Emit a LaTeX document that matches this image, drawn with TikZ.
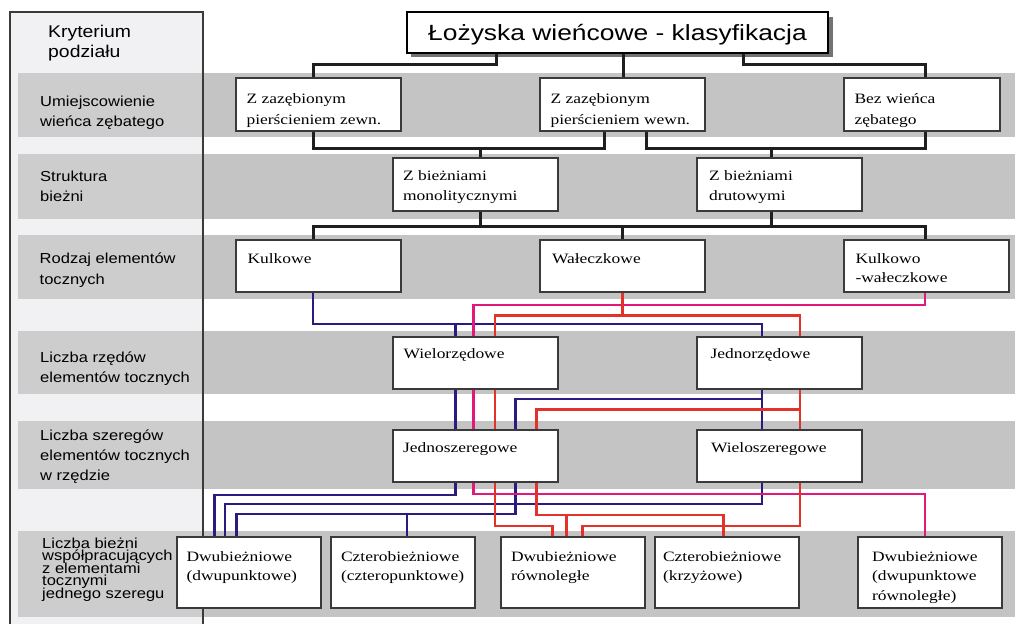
\documentclass[tikz,border=0pt]{standalone}
\usepackage{fontspec}
\setmainfont{Liberation Serif}
\newfontfamily\labfont{Liberation Sans}[FakeStretch=1.14]
\newfontfamily\ttlfont{Liberation Sans}[FakeStretch=1.2]
\newfontfamily\boxfont{Liberation Serif}[FakeStretch=1.22]
\newcommand\Ls[2]{\vtop{\baselineskip=#1\lineskiplimit=-50pt\lineskip=0pt\relax #2}}
\definecolor{bandc}{HTML}{C4C4C4}
\definecolor{bandl}{HTML}{CDCDCE}
\definecolor{colc}{HTML}{F1F1F3}
\definecolor{frame}{HTML}{3A3A3A}
\definecolor{cblue}{HTML}{2C1A80}
\definecolor{cpink}{HTML}{E2197B}
\definecolor{cred}{HTML}{E2322A}
\tikzset{
  conn/.style={line width=3pt, draw=black!88},
  cb/.style={line width=2.5pt, draw=cblue},
  cp/.style={line width=2.5pt, draw=cpink},
  cr/.style={line width=2.5pt, draw=cred},
  box/.style={draw=frame, line width=1.3pt, fill=white, inner sep=0pt, rectangle},
  bx/.style 2 args={box, minimum width=#1pt, minimum height=#2pt},
  btxt/.style={inner sep=0pt, anchor=base west, font=\boxfont\fontsize{14.3}{20}\selectfont},
  lab/.style={inner sep=0pt, anchor=base west, font=\labfont\fontsize{14.5}{20}\selectfont},
}
\begin{document}
\begin{tikzpicture}[x=1pt,y=-1pt]
\useasboundingbox (0,0) rectangle (1015,624);
% left column and bands
\fill[colc] (10,12) rectangle (203,624);
\foreach \a/\b in {73/137,154/219,235/299,331/394,421/489,531/617}{
  \fill[bandl] (18,\a) rectangle (203,\b);
  \fill[bandc] (203,\a) rectangle (1015,\b);
}
\draw[frame, line width=1.4pt] (10,624) -- (10,12) -- (203,12) -- (203,624);

% left labels
\node[lab, font=\labfont\fontsize{17}{20}\selectfont] (L0) at (48,37) {\Ls{20.5pt}{\hbox{Kryterium}\hbox{podziału}}};
\node[lab] (L1) at (40,106) {\Ls{20.7pt}{\hbox{Umiejscowienie}\hbox{wieńca zębatego}}};
\node[lab] (L2) at (40,181) {\Ls{20pt}{\hbox{Struktura}\hbox{bieżni}}};
\node[lab] (L3) at (39.5,263.5) {\Ls{20.5pt}{\hbox{Rodzaj elementów}\hbox{tocznych}}};
\node[lab] (L4) at (40,362) {\Ls{20pt}{\hbox{Liczba rzędów}\hbox{elementów tocznych}}};
\node[lab] (L5) at (40,440) {\Ls{20pt}{\hbox{Liczba szeregów}\hbox{elementów tocznych}\hbox{w rzędzie}}};
\node[lab] (L6) at (42,548) {\Ls{12.5pt}{\hbox{Liczba bieżni}\hbox{współpracujących}\hbox{z elementami}\hbox{tocznymi}\hbox{jednego szeregu}}};

% title with shadow
\fill[black!55] (411.2,16.8) rectangle (833.3,57.2);
\node[bx={421.6}{40.4}, draw=black, line width=2pt,
  font=\ttlfont\fontsize{22}{26}\selectfont, text height=16pt, text depth=0pt]
  (T) at (617.5,32.5) {Łożyska wieńcowe - klasyfikacja};

% boxes
\node[bx={165}{53}] (B1) at (318.5,104.5) {};
\node[bx={165}{53}] (B2) at (622.5,104.5) {};
\node[bx={156}{53}] (B3) at (922,104.5) {};
\node[bx={165}{53}] (M1) at (475.5,184.5) {};
\node[bx={165}{53}] (M2) at (779.5,184.5) {};
\node[bx={165}{52}] (K1) at (318.5,266) {};
\node[bx={165}{52}] (K2) at (622.5,266) {};
\node[bx={165}{52}] (K3) at (926.5,266) {};
\node[bx={165}{52}] (R1) at (475.5,363) {};
\node[bx={165}{52}] (R2) at (779.5,363) {};
\node[bx={165}{52}] (S1) at (475.5,456) {};
\node[bx={165}{52}] (S2) at (779.5,456) {};
\node[bx={144}{71}] (D1) at (249,572.5) {};
\node[bx={144}{71}] (D2) at (403,572.5) {};
\node[bx={144}{71}] (D3) at (573,572.5) {};
\node[bx={144}{71}] (D4) at (727,572.5) {};
\node[bx={144}{71}] (D5) at (930,572.5) {};

% box texts
\node[btxt] (B1t) at ([xshift=11pt,yshift=-26pt]B1.north west) {\Ls{21pt}{\hbox{Z zazębionym}\hbox{pierścieniem zewn.}}};
\node[btxt] (B2t) at ([xshift=11pt,yshift=-26pt]B2.north west) {\Ls{21pt}{\hbox{Z zazębionym}\hbox{pierścieniem wewn.}}};
\node[btxt] (B3t) at ([xshift=11pt,yshift=-26pt]B3.north west) {\Ls{21pt}{\hbox{Bez wieńca}\hbox{zębatego}}};
\node[btxt] (M1t) at ([xshift=10.5pt,yshift=-23.5pt]M1.north west) {\Ls{20pt}{\hbox{Z bieżniami}\hbox{monolitycznymi}}};
\node[btxt] (M2t) at ([xshift=12.5pt,yshift=-23.5pt]M2.north west) {\Ls{20pt}{\hbox{Z bieżniami}\hbox{drutowymi}}};
\node[btxt] (K1t) at ([xshift=12pt,yshift=-24.3pt]K1.north west) {Kulkowe};
\node[btxt] (K2t) at ([xshift=12.5pt,yshift=-24.3pt]K2.north west) {Wałeczkowe};
\node[btxt] (K3t) at ([xshift=12pt,yshift=-24.3pt]K3.north west) {\Ls{19pt}{\hbox{Kulkowo}\hbox{-wałeczkowe}}};
\node[btxt] (R1t) at ([xshift=11pt,yshift=-22.5pt]R1.north west) {Wielorzędowe};
\node[btxt] (R2t) at ([xshift=14pt,yshift=-22.5pt]R2.north west) {Jednorzędowe};
\node[btxt] (S1t) at ([xshift=10.5pt,yshift=-23.3pt]S1.north west) {Jednoszeregowe};
\node[btxt] (S2t) at ([xshift=14.5pt,yshift=-23.3pt]S2.north west) {Wieloszeregowe};
\node[btxt] (D1t) at ([xshift=10pt,yshift=-25pt]D1.north west) {\Ls{19.5pt}{\hbox{Dwubieżniowe}\hbox{(dwupunktowe)}}};
\node[btxt] (D2t) at ([xshift=10.5pt,yshift=-25pt]D2.north west) {\Ls{19.5pt}{\hbox{Czterobieżniowe}\hbox{(czteropunktowe)}}};
\node[btxt] (D3t) at ([xshift=10.5pt,yshift=-25pt]D3.north west) {\Ls{19.5pt}{\hbox{Dwubieżniowe}\hbox{równoległe}}};
\node[btxt] (D4t) at ([xshift=8.5pt,yshift=-25pt]D4.north west) {\Ls{19.5pt}{\hbox{Czterobieżniowe}\hbox{(krzyżowe)}}};
\node[btxt] (D5t) at ([xshift=14.5pt,yshift=-25pt]D5.north west) {\Ls{19.5pt}{\hbox{Dwubieżniowe}\hbox{(dwupunktowe}\hbox{równoległe)}}};

% black connectors
\draw[conn] (T.south -| 496,0) |- (313,64) -- (B1.north -| 313,0);
\draw[conn] (T.south -| 623,0) -- (B2.north -| 623,0);
\draw[conn] (T.south -| 743,0) |- (925.5,64) -- (B3.north -| 925.5,0);
\draw[conn] (B1.south -| 313,0) |- (480,148) -- (M1.north -| 480,0);
\draw[conn] (B2.south -| 604,0) |- (480,148) -- (M1.north -| 480,0);
\draw[conn] (B2.south -| 646,0) |- (771,148) -- (M2.north -| 771,0);
\draw[conn] (B3.south -| 925.5,0) |- (771,148) -- (M2.north -| 771,0);
\draw[conn] (M1.south -| 480,0) |- (313,226) -- (K1.north -| 313,0);
\draw[conn] (M1.south -| 480,0) |- (622.5,226) -- (K2.north -| 622.5,0);
\draw[conn] (M2.south -| 771,0) |- (622.5,226) -- (K2.north -| 622.5,0);
\draw[conn] (M2.south -| 771,0) |- (925,226) -- (K3.north -| 925,0);

% blue tracks
\draw[cb] (K1.south -| 313,0) |- (455.7,324) -- (R1.north -| 455.7,0);
\draw[cb] (K1.south -| 313,0) |- (762,324) -- (R2.north -| 762,0);
\draw[cb] (R1.south -| 455.7,0) -- (S1.north -| 455.7,0);
\draw[cb] (R2.south -| 762,0) -- (S2.north -| 762,0);
\draw[cb] (R2.south -| 762,0) |- (515.5,399) -- (S1.north -| 515.5,0);
\draw[cb] (S1.south -| 455.7,0) |- (214.3,495) -- (D1.north -| 214.3,0);
\draw[cb] (S2.south -| 762,0) |- (225,504) -- (D1.north -| 225,0);
\draw[cb] (S1.south -| 515.5,0) |- (236.7,514) -- (D1.north -| 236.7,0);
\draw[cb] (S1.south -| 515.5,0) |- (407,514) -- (D2.north -| 407,0);

% pink tracks
\draw[cp] (K3.south -| 925,0) |- (473.3,305) -- (R1.north -| 473.3,0);
\draw[cp] (R1.south -| 473.3,0) -- (S1.north -| 473.3,0);
\draw[cp] (S1.south -| 473.3,0) |- (925,494) -- (D5.north -| 925,0);

% red tracks
\draw[cr] (K2.south -| 622.7,0) |- (495,315.5) -- (R1.north -| 495,0);
\draw[cr] (K2.south -| 622.7,0) |- (800,315.5) -- (R2.north -| 800,0);
\draw[cr] (R1.south -| 495,0) -- (S1.north -| 495,0);
\draw[cr] (R2.south -| 800,0) -- (S2.north -| 800,0);
\draw[cr] (R2.south -| 800,0) |- (536.7,409.3) -- (S1.north -| 536.7,0);
\draw[cr] (S1.south -| 495,0) |- (552.7,526) -- (D3.north -| 552.7,0);
\draw[cr] (S1.south -| 536.7,0) |- (723.5,515) -- (D4.north -| 723.5,0);
\draw[cr] (S1.south -| 536.7,0) |- (566.7,515) -- (D3.north -| 566.7,0);
\draw[cr] (S2.south -| 800,0) |- (582.7,526) -- (D3.north -| 582.7,0);
\end{tikzpicture}
\end{document}
